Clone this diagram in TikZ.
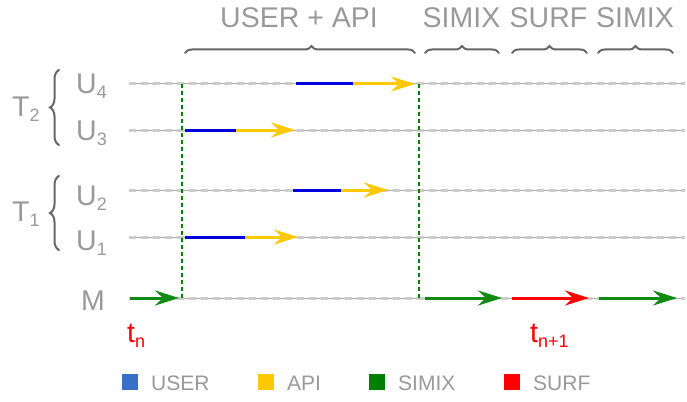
\documentclass[tikz,border=0pt]{standalone}
\usepackage{fontspec}
\setmainfont{Liberation Sans}
\usetikzlibrary{arrows.meta,decorations.pathreplacing}

\definecolor{txtgray}{HTML}{999999}
\definecolor{bracegray}{HTML}{666666}
\definecolor{linegray}{HTML}{AAAAAA}
\definecolor{dashgray}{HTML}{CCCCCC}
\definecolor{userblue}{HTML}{0000DD}
\definecolor{legblue}{HTML}{3A70C8}
\definecolor{apiyellow}{HTML}{FFC800}
\definecolor{simixgreen}{HTML}{108A10}
\definecolor{leggreen}{HTML}{008000}
\definecolor{surfred}{HTML}{FF0000}

\newcommand{\idx}[1]{\raisebox{-5pt}{\fontsize{18}{18}\selectfont #1}}

\tikzset{
  biglbl/.style={font=\fontsize{28.5}{30}\selectfont, text=txtgray, inner sep=0, anchor=base west},
  steplbl/.style={biglbl, anchor=base},
  timelbl/.style={biglbl, text=surfred},
  leglbl/.style={font=\fontsize{21}{23}\selectfont, text=txtgray, inner sep=0, anchor=base west},
  legbox/.style={minimum size=16pt, inner sep=0},
  timeline/.style={draw=linegray, line width=1pt,
    postaction={draw=dashgray, line width=3pt, dash pattern=on 7pt off 5pt}},
  sync/.style={draw=leggreen, line width=1.3pt, dash pattern=on 4pt off 3pt},
  seg/.style={line width=3pt},
  tip/.style={-{Stealth[length=24pt,width=15pt,inset=8pt]}},
  user/.style={seg, draw=userblue},
  api/.style={seg, tip, draw=apiyellow},
  simix/.style={seg, tip, draw=simixgreen},
  surf/.style={seg, tip, draw=surfred},
  topbrace/.style={draw=bracegray, line width=2pt, line cap=round, decorate},
  sidebrace/.style={draw=bracegray, line width=2pt, line cap=round, decorate,
    decoration={brace, amplitude=9pt}}
}

\begin{document}
\begin{tikzpicture}[x=1pt,y=-1pt]
  \useasboundingbox (0,0) rectangle (687,401);

  % rows
  \coordinate (U4-s) at (129,84);  \coordinate (U4-e) at (685,84);
  \coordinate (U3-s) at (129,130); \coordinate (U3-e) at (685,130);
  \coordinate (U2-s) at (129,190); \coordinate (U2-e) at (685,190);
  \coordinate (U1-s) at (129,237); \coordinate (U1-e) at (685,237);
  \coordinate (M-s)  at (129,298); \coordinate (M-e)  at (685,298);
  \foreach \r in {U4,U3,U2,U1,M}
    \draw [timeline] (\r-s) -- (\r-e);

  \node [biglbl] (U4) at (76,94)  {U\idx{4}};
  \node [biglbl] (U3) at (76,140) {U\idx{3}};
  \node [biglbl] (U2) at (76,205) {U\idx{2}};
  \node [biglbl] (U1) at (76,250) {U\idx{1}};
  \node [biglbl] (M)  at (81,310) {M};
  \node [biglbl] (T2) at (12,117) {T\idx{2}};
  \node [biglbl] (T1) at (12,221) {T\idx{1}};

  % thread braces
  \coordinate (T2-b) at (59,145); \coordinate (T2-t) at (59,70);
  \coordinate (T1-b) at (59,250); \coordinate (T1-t) at (59,176);
  \draw [sidebrace] (T2-b) -- (T2-t);
  \draw [sidebrace] (T1-b) -- (T1-t);

  % synchronisation points
  \coordinate (sync1-t) at (182,84); \coordinate (sync1-b) at (182,298);
  \coordinate (sync2-t) at (419,84); \coordinate (sync2-b) at (419,298);
  \draw [sync] (sync1-t) -- (sync1-b);
  \draw [sync] (sync2-t) -- (sync2-b);

  % user code and api calls
  \coordinate (U4-a) at (296,84);  \coordinate (U4-b) at (353,84);  \coordinate (U4-c) at (415,84);
  \coordinate (U3-a) at (185,130); \coordinate (U3-b) at (236,130); \coordinate (U3-c) at (295,130);
  \coordinate (U2-a) at (293,190); \coordinate (U2-b) at (341,190); \coordinate (U2-c) at (388,190);
  \coordinate (U1-a) at (185,237); \coordinate (U1-b) at (245,237); \coordinate (U1-c) at (298,237);
  \foreach \r in {U4,U3,U2,U1} {
    \draw [user] (\r-a) -- (\r-b);
    \draw [api]  (\r-b) -- (\r-c);
  }

  % maestro
  \coordinate (M-a) at (130,298); \coordinate (M-b) at (179,298);
  \coordinate (M-c) at (425,298); \coordinate (M-d) at (502,298);
  \coordinate (M-f) at (512,298); \coordinate (M-g) at (589,298);
  \coordinate (M-h) at (599,298); \coordinate (M-i) at (677,298);
  \draw [simix] (M-a) -- (M-b);
  \draw [simix] (M-c) -- (M-d);
  \draw [surf]  (M-f) -- (M-g);
  \draw [simix] (M-h) -- (M-i);

  \node [timelbl] (tn)  at (127,342) {t\idx{n}};
  \node [timelbl] (tn1) at (530,342) {t\idx{n+1}};

  % phases
  \coordinate (ph1-l) at (185,53); \coordinate (ph1-r) at (415,53);
  \coordinate (ph2-l) at (425,53); \coordinate (ph2-r) at (499,53);
  \coordinate (ph3-l) at (512,53); \coordinate (ph3-r) at (587,53);
  \coordinate (ph4-l) at (598,53); \coordinate (ph4-r) at (673,53);
  \draw [topbrace, decoration={brace, amplitude=7pt, aspect=0.55}] (ph1-l) -- (ph1-r);
  \draw [topbrace, decoration={brace, amplitude=7pt}] (ph2-l) -- (ph2-r);
  \draw [topbrace, decoration={brace, amplitude=7pt}] (ph3-l) -- (ph3-r);
  \draw [topbrace, decoration={brace, amplitude=7pt}] (ph4-l) -- (ph4-r);
  \node [steplbl] (ph1) at (299,28)   {USER + API};
  \node [steplbl] (ph2) at (461.5,28) {SIMIX};
  \node [steplbl] (ph3) at (548.5,28) {SURF};
  \node [steplbl] (ph4) at (635,28)   {SIMIX};

  % legend
  \node [legbox, fill=legblue]   (legU) at (130,382) {};
  \node [legbox, fill=apiyellow] (legA) at (266,382) {};
  \node [legbox, fill=leggreen]  (legS) at (377,382) {};
  \node [legbox, fill=surfred]   (legF) at (512,382) {};
  \node [leglbl] at (151,390) {USER};
  \node [leglbl] at (287,390) {API};
  \node [leglbl] at (398,390) {SIMIX};
  \node [leglbl] at (533,390) {SURF};
\end{tikzpicture}
\end{document}
